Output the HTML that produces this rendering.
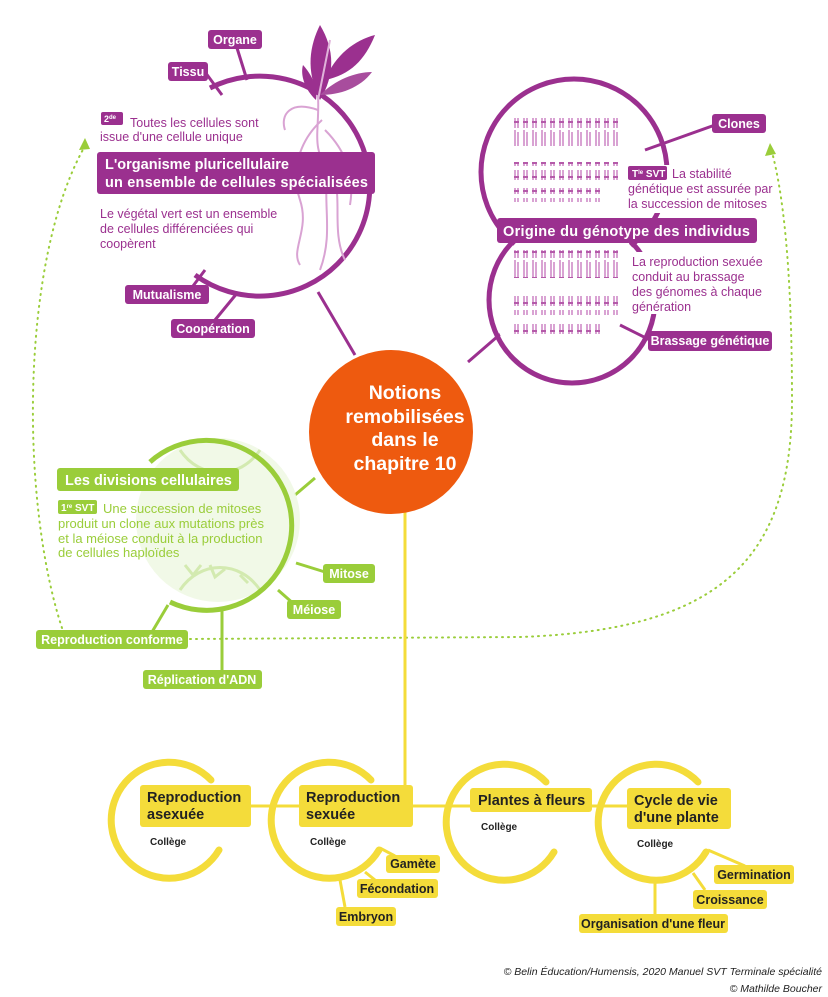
<!DOCTYPE html>
<html><head><meta charset="utf-8"><style>
body{margin:0;background:#fff}
svg{display:block}
text{font-family:"Liberation Sans","DejaVu Sans",sans-serif}
.pl{fill:#fff;font-weight:bold;font-size:12.5px}
.yl{fill:#222;font-weight:bold;font-size:12.5px}
</style></head><body>
<svg width="828" height="997" viewBox="0 0 828 997" xmlns="http://www.w3.org/2000/svg">
<defs>
<pattern id="chr" width="9" height="26" patternUnits="userSpaceOnUse">
<rect x="1" y="0" width="2" height="24" fill="#d9a3d3"/><rect x="4" y="2" width="2" height="22" fill="#d9a3d3"/>
<rect x="1" y="17" width="5" height="2" fill="#b45aa9"/>
</pattern>
<pattern id="chr2" width="9" height="14" patternUnits="userSpaceOnUse">
<rect x="1" y="2" width="2" height="10" fill="#d9a3d3"/><rect x="4" y="2" width="2" height="10" fill="#d9a3d3"/>
<rect x="1" y="8" width="5" height="2" fill="#b45aa9"/>
</pattern>
</defs>

<path d="M62,628 C 20,500 20,260 85,146" fill="none" stroke="#9acd3a" stroke-width="2" stroke-dasharray="1 5" stroke-linecap="round"/>
<polygon points="85,138 79,150 90,149" fill="#9acd3a"/>
<path d="M190,639 L520,637 C 720,630 792,560 792,400 C 792,260 782,190 772,152" fill="none" stroke="#9acd3a" stroke-width="2" stroke-dasharray="1 5" stroke-linecap="round"/>
<polygon points="770,143 765,156 776,154" fill="#9acd3a"/>

<line x1="355" y1="355" x2="318" y2="292" stroke="#9b308f" stroke-width="3"/>
<line x1="468" y1="362" x2="505" y2="330" stroke="#9b308f" stroke-width="3"/>
<line x1="315" y1="478" x2="295" y2="495" stroke="#9acd3a" stroke-width="3"/>
<line x1="405" y1="505" x2="405" y2="790" stroke="#f4dc3a" stroke-width="3"/>

<path d="M210,88 A110,110 0 1 1 195,275" fill="none" stroke="#9b308f" stroke-width="5"/>
<line x1="205" y1="72" x2="222" y2="95" stroke="#9b308f" stroke-width="3"/>
<line x1="237" y1="48" x2="247" y2="80" stroke="#9b308f" stroke-width="3"/>
<line x1="190" y1="290" x2="205" y2="270" stroke="#9b308f" stroke-width="3"/>
<line x1="215" y1="320" x2="238" y2="292" stroke="#9b308f" stroke-width="3"/>
<g fill="none" stroke="#d9a3d3" stroke-width="2">
<path d="M318,95 C 320,130 310,150 330,170 C 345,190 330,230 345,260"/>
<path d="M322,120 C 300,140 290,170 300,200 C 310,230 290,250 300,265"/>
<path d="M325,130 C 345,150 355,175 350,205"/>
<path d="M318,110 C 290,100 280,115 285,130"/>
<path d="M330,160 C 320,200 335,230 320,270"/>
</g>
<path d="M320,100 C 305,70 310,45 320,25 C 335,50 335,75 320,100Z" fill="#9b308f"/>
<path d="M325,80 C 335,55 355,40 375,35 C 365,60 350,75 325,80Z" fill="#9b308f"/>
<path d="M320,95 C 335,80 355,72 372,72 C 360,88 340,95 320,95Z" fill="#a84d9d"/>
<path d="M316,100 C 305,90 300,75 303,65 C 312,75 318,88 316,100Z" fill="#9b308f"/>
<line x1="318" y1="100" x2="330" y2="40" stroke="#e0b3da" stroke-width="2"/>

<rect x="208" y="30" width="54" height="19" rx="3" fill="#9b308f"/><text x="235" y="44" class="pl" text-anchor="middle">Organe</text>
<rect x="168" y="62" width="40" height="19" rx="3" fill="#9b308f"/><text x="188" y="76" class="pl" text-anchor="middle">Tissu</text>
<rect x="101" y="112" width="22" height="13" rx="2" fill="#9b308f"/><text x="104" y="122" fill="#fff" font-size="9" font-weight="bold">2<tspan font-size="6" dy="-3">de</tspan></text>
<text x="130" y="127" fill="#9b308f" font-size="12.5">Toutes les cellules sont</text>
<text x="100" y="141" fill="#9b308f" font-size="12.5">issue d'une cellule unique</text>
<rect x="97" y="152" width="278" height="42" rx="3" fill="#9b308f"/>
<text x="105" y="169" fill="#fff" font-size="14.5" font-weight="bold">L'organisme pluricellulaire</text>
<text x="105" y="187" fill="#fff" font-size="14.5" font-weight="bold" textLength="263">un ensemble de cellules spécialisées</text>
<text fill="#9b308f" font-size="12.5"><tspan x="100" y="218">Le végétal vert est un ensemble</tspan><tspan x="100" y="233">de cellules différenciées qui</tspan><tspan x="100" y="248">coopèrent</tspan></text>
<rect x="125" y="285" width="84" height="19" rx="3" fill="#9b308f"/><text x="167" y="299" class="pl" text-anchor="middle">Mutualisme</text>
<rect x="171" y="319" width="84" height="19" rx="3" fill="#9b308f"/><text x="213" y="333" class="pl" text-anchor="middle">Coopération</text>

<circle cx="574" cy="172" r="93" fill="none" stroke="#9b308f" stroke-width="5"/>
<circle cx="572" cy="300" r="83" fill="none" stroke="#9b308f" stroke-width="5"/>
<circle cx="574" cy="172" r="90" fill="#fff"/>
<circle cx="572" cy="300" r="80" fill="#fff"/>
<line x1="645" y1="150" x2="715" y2="125" stroke="#9b308f" stroke-width="3"/>
<line x1="620" y1="325" x2="650" y2="340" stroke="#9b308f" stroke-width="3"/>
<rect x="512" y="118" width="106" height="28" fill="url(#chr)"/>
<rect x="510" y="162" width="110" height="20" fill="url(#chr2)"/>
<rect x="510" y="188" width="90" height="14" fill="url(#chr2)"/>
<rect x="512" y="250" width="110" height="28" fill="url(#chr)"/>
<rect x="510" y="295" width="110" height="20" fill="url(#chr2)"/>
<rect x="510" y="320" width="90" height="14" fill="url(#chr2)"/>
<rect x="712" y="114" width="54" height="19" rx="3" fill="#9b308f"/><text x="739" y="128" class="pl" text-anchor="middle">Clones</text>
<rect x="626" y="165" width="148" height="48" fill="#fff"/>
<rect x="628" y="166" width="39" height="14" rx="2" fill="#9b308f"/><text x="632" y="177" fill="#fff" font-size="10" font-weight="bold">T<tspan font-size="6" dy="-3">le</tspan><tspan dy="3"> SVT</tspan></text>
<text x="672" y="178" fill="#9b308f" font-size="12.5">La stabilité</text>
<text x="628" y="193" fill="#9b308f" font-size="12.5">génétique est assurée par</text>
<text x="628" y="208" fill="#9b308f" font-size="12.5">la succession de mitoses</text>
<rect x="497" y="218" width="260" height="25" rx="3" fill="#9b308f"/>
<text x="503" y="236" fill="#fff" font-size="14.5" font-weight="bold" textLength="247">Origine du génotype des individus</text>
<rect x="628" y="252" width="134" height="62" fill="#fff"/>
<text fill="#9b308f" font-size="12.5"><tspan x="632" y="266">La reproduction sexuée</tspan><tspan x="632" y="281">conduit au brassage</tspan><tspan x="632" y="296">des génomes à chaque</tspan><tspan x="632" y="311">génération</tspan></text>
<rect x="648" y="331" width="124" height="20" rx="3" fill="#9b308f"/><text x="710" y="345" class="pl" text-anchor="middle">Brassage génétique</text>

<circle cx="218" cy="520" r="82" fill="#eef7e1" opacity="0.8"/>
<g fill="none" stroke="#d3eab0" stroke-width="3"><path d="M180,590 C 200,560 240,560 260,590"/><path d="M180,450 C 200,480 240,480 260,450"/><path d="M185,565 l8,10 l8,-10"/><path d="M210,565 l5,12 l10,-8"/><path d="M240,575 l8,8"/></g>
<path d="M150,462 A85,85 0 1 1 170,602" fill="none" stroke="#9acd3a" stroke-width="5"/>
<line x1="296" y1="563" x2="325" y2="572" stroke="#9acd3a" stroke-width="3"/>
<line x1="278" y1="590" x2="295" y2="605" stroke="#9acd3a" stroke-width="3"/>
<line x1="168" y1="605" x2="152" y2="632" stroke="#9acd3a" stroke-width="3"/>
<line x1="222" y1="607" x2="222" y2="672" stroke="#9acd3a" stroke-width="3"/>
<rect x="57" y="468" width="182" height="23" rx="3" fill="#9acd3a"/>
<text x="65" y="485" fill="#fff" font-size="14.5" font-weight="bold">Les divisions cellulaires</text>
<rect x="58" y="500" width="39" height="14" rx="2" fill="#9acd3a"/><text x="61" y="511" fill="#fff" font-size="10" font-weight="bold">1<tspan font-size="6" dy="-3">re</tspan><tspan dy="3"> SVT</tspan></text>
<text fill="#9acd3a" font-size="13"><tspan x="103" y="513">Une succession de mitoses</tspan><tspan x="58" y="528">produit un clone aux mutations près</tspan><tspan x="58" y="543">et la méiose conduit à la production</tspan><tspan x="58" y="557">de cellules haploïdes</tspan></text>
<rect x="323" y="564" width="52" height="19" rx="3" fill="#9acd3a"/><text x="349" y="578" class="pl" text-anchor="middle">Mitose</text>
<rect x="287" y="600" width="54" height="19" rx="3" fill="#9acd3a"/><text x="314" y="614" class="pl" text-anchor="middle">Méiose</text>
<rect x="36" y="630" width="152" height="19" rx="3" fill="#9acd3a"/><text x="112" y="644" class="pl" text-anchor="middle">Reproduction conforme</text>
<rect x="143" y="670" width="119" height="19" rx="3" fill="#9acd3a"/><text x="202" y="684" class="pl" text-anchor="middle">Réplication d'ADN</text>

<circle cx="391" cy="432" r="82" fill="#ee5a0f"/>
<g fill="#fff" font-size="19.5" font-weight="bold" text-anchor="middle">
<text x="405" y="399">Notions</text><text x="405" y="423">remobilisées</text><text x="405" y="446">dans le</text><text x="405" y="470">chapitre 10</text></g>

<g fill="none" stroke="#f4dc3a" stroke-width="7" stroke-linecap="round">
<path d="M211,780 A58,58 0 1 0 219,850"/>
<path d="M371,780 A58,58 0 1 0 379,850"/>
<path d="M546,782 A58,58 0 1 0 554,852"/>
<path d="M698,782 A58,58 0 1 0 706,852"/>
</g>
<g stroke="#f4dc3a" stroke-width="3">
<line x1="250" y1="806" x2="300" y2="806"/><line x1="412" y1="806" x2="470" y2="806"/><line x1="591" y1="806" x2="627" y2="806"/>
<line x1="380" y1="848" x2="395" y2="856"/><line x1="365" y1="872" x2="375" y2="880"/><line x1="340" y1="880" x2="345" y2="907"/>
<line x1="708" y1="850" x2="745" y2="866"/><line x1="693" y1="873" x2="705" y2="890"/><line x1="655" y1="882" x2="655" y2="914"/>
</g>
<g fill="#f4dc3a">
<rect x="140" y="785" width="111" height="42" rx="3"/>
<rect x="299" y="785" width="114" height="42" rx="3"/>
<rect x="470" y="788" width="122" height="24" rx="3"/>
<rect x="627" y="788" width="104" height="41" rx="3"/>
<rect x="386" y="855" width="54" height="18" rx="3"/>
<rect x="357" y="879" width="81" height="19" rx="3"/>
<rect x="336" y="907" width="60" height="19" rx="3"/>
<rect x="714" y="865" width="80" height="19" rx="3"/>
<rect x="693" y="890" width="74" height="19" rx="3"/>
<rect x="579" y="914" width="149" height="19" rx="3"/>
</g>
<g fill="#222" font-size="14.5" font-weight="bold">
<text x="147" y="802">Reproduction</text><text x="147" y="819">asexuée</text>
<text x="306" y="802">Reproduction</text><text x="306" y="819">sexuée</text>
<text x="478" y="805">Plantes à fleurs</text>
<text x="634" y="805">Cycle de vie</text><text x="634" y="822">d'une plante</text>
</g>
<g fill="#222" font-size="10" font-weight="bold">
<text x="150" y="845">Collège</text><text x="310" y="845">Collège</text><text x="481" y="830">Collège</text><text x="637" y="847">Collège</text>
</g>
<g text-anchor="middle">
<text x="413" y="868" class="yl">Gamète</text><text x="397" y="893" class="yl">Fécondation</text><text x="366" y="921" class="yl">Embryon</text>
<text x="754" y="879" class="yl">Germination</text><text x="730" y="904" class="yl">Croissance</text><text x="653" y="928" class="yl">Organisation d'une fleur</text>
</g>
<g fill="#222" font-size="10.5" font-style="italic" text-anchor="end">
<text x="822" y="975">© Belin Éducation/Humensis, 2020 Manuel SVT Terminale spécialité</text>
<text x="822" y="992">© Mathilde Boucher</text>
</g>
</svg>
</body></html>
